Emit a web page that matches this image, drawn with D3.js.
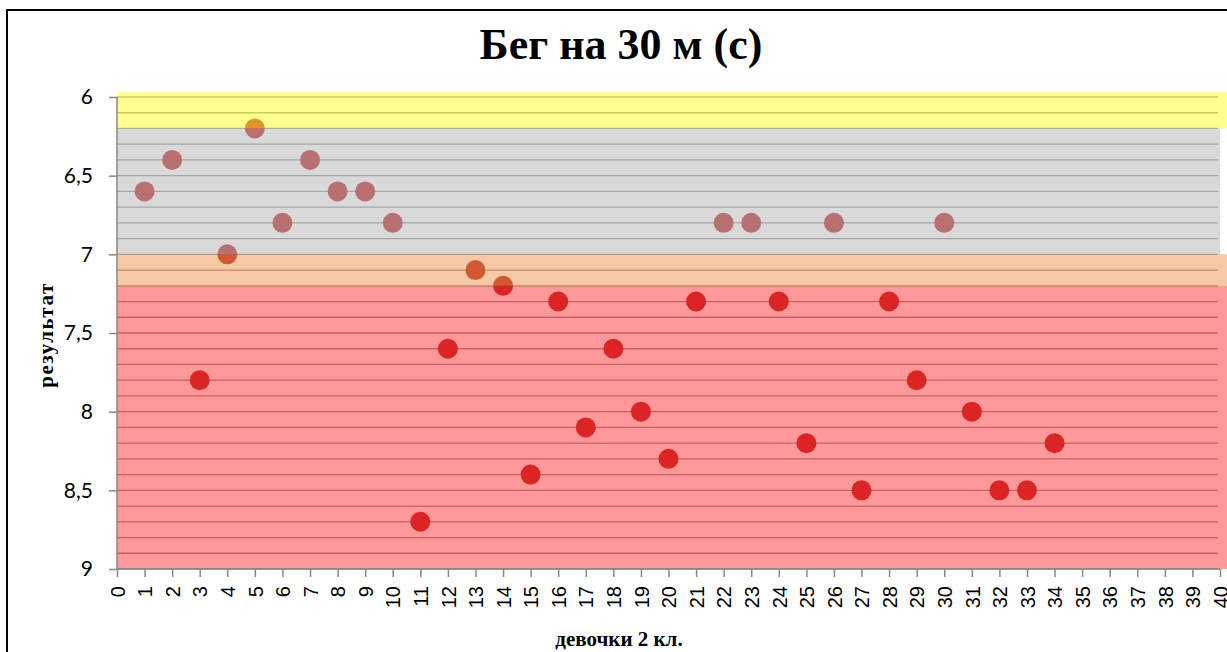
<!DOCTYPE html>
<html>
<head>
<meta charset="utf-8">
<script src="https://cdn.jsdelivr.net/npm/d3@7"></script>
<style>
  body { margin: 0; background: #fff; }
  svg { display: block; }
</style>
</head>
<body>
<div id="chart"></div>
<script>
// pupils (girls, 2nd grade) and their 30 m run times
const pupils = [1, 2, 3, 4, 5, 6, 7, 8, 9, 10, 11, 12, 13, 14, 15, 16, 17, 18, 19, 20,
                21, 22, 23, 24, 25, 26, 27, 28, 29, 30, 31, 32, 33, 34];
const times = [6.6, 6.4, 7.8, 7.0, 6.2, 6.8, 6.4, 6.6, 6.6, 6.8, 8.7, 7.6, 7.1, 7.2, 8.4, 7.3, 8.1, 7.6, 8.0, 8.3,
               7.3, 6.8, 6.8, 7.3, 8.2, 6.8, 8.5, 7.3, 7.8, 6.8, 8.0, 8.5, 8.5, 8.2];

// grade bands (from, to)
const bandFrom = [5.97, 6.2, 7.0, 7.2];
const bandTo = [6.2, 7.0, 7.2, 9.0];
const bandColors = ["rgba(255,255,31,0.5)", "rgba(179,179,179,0.5)", "rgba(232,140,62,0.47)", "rgba(255,28,28,0.45)"];

const yTicks = [6, 6.5, 7, 7.5, 8, 8.5, 9];
const xTicks = d3.range(0, 41);

const W = 1227, H = 652;
const margin = { top: 97, right: 7, bottom: 83, left: 117 };
const width = W - margin.left - margin.right;
const height = H - margin.top - margin.bottom;

const svg = d3.select("#chart").append("svg")
    .attr("width", W)
    .attr("height", H);

// chart frame
svg.append("rect")
    .attr("x", 7).attr("y", 10)
    .attr("width", 1240).attr("height", 700)
    .attr("fill", "#fff")
    .attr("stroke", "#000")
    .attr("stroke-width", 2);

const g = svg.append("g")
    .attr("transform", `translate(${margin.left},${margin.top})`);

const x = d3.scaleLinear().domain([0, 40]).range([0, width]);
const y = d3.scaleLinear().domain([6, 9]).range([0, height]); // reversed: 6 on top

// horizontal gridlines every 0.1
g.append("g")
    .selectAll("line")
    .data(d3.range(60, 91).map(d => d / 10))
    .enter()
    .append("line")
    .attr("x1", 0).attr("x2", width - 2)
    .attr("y1", d => y(d)).attr("y2", d => y(d))
    .attr("stroke", "#999")
    .attr("stroke-width", 1.3);

// points
g.append("g")
    .selectAll("circle")
    .data(pupils)
    .enter()
    .append("circle")
    .attr("cx", (d, i) => x(d))
    .attr("cy", (d, i) => y(times[i]))
    .attr("r", 10)
    .attr("fill", "#be2d2d");

// translucent bands on top
g.append("g")
    .selectAll("rect")
    .data(bandFrom)
    .enter()
    .append("rect")
    .attr("x", 0)
    .attr("y", (d, i) => y(d))
    .attr("width", (d, i) => i === 1 ? width : width + 8)
    .attr("height", (d, i) => y(bandTo[i]) - y(d))
    .attr("fill", (d, i) => bandColors[i]);

// y axis
const yAxis = g.append("g")
    .call(d3.axisLeft(y).tickValues(yTicks).tickSize(8).tickFormat(d => String(d).replace(".", ",")));
yAxis.select(".domain").attr("stroke", "#888").attr("stroke-width", 1.5).attr("d", `M0,0V${height}`);
yAxis.selectAll(".tick line").attr("stroke", "#888").attr("stroke-width", 1.5);
yAxis.selectAll(".tick text")
    .attr("x", -24)
    .attr("fill", "#000")
    .style("font-family", "Lato, 'Open Sans', sans-serif")
    .style("font-size", "21px");

// x axis
const xAxis = g.append("g")
    .attr("transform", `translate(0,${height})`)
    .call(d3.axisBottom(x).tickValues(xTicks).tickSize(8).tickFormat(d3.format("d")));
xAxis.select(".domain").attr("stroke", "#888").attr("stroke-width", 1.5).attr("d", `M0,0H${width}`);
xAxis.selectAll(".tick line").attr("stroke", "#888").attr("stroke-width", 1.5);
xAxis.selectAll(".tick text")
    .attr("transform", "translate(0,17) rotate(-90)")
    .attr("x", 0).attr("y", 0)
    .attr("dy", "0.36em")
    .attr("text-anchor", "end")
    .attr("fill", "#000")
    .style("font-family", "'Liberation Sans', Arial, sans-serif")
    .style("font-size", "20px");

// titles
svg.append("text")
    .attr("x", 621).attr("y", 59)
    .attr("text-anchor", "middle")
    .style("font-family", "'Liberation Serif', 'Times New Roman', serif")
    .style("font-weight", "bold")
    .style("font-size", "44px")
    .text("Бег на 30 м (с)");

svg.append("text")
    .attr("transform", "translate(53,335) rotate(-90)")
    .attr("text-anchor", "middle")
    .style("font-family", "'Liberation Serif', 'Times New Roman', serif")
    .style("font-weight", "bold")
    .style("font-size", "21px")
    .style("letter-spacing", "1.5px")
    .text("результат");

svg.append("text")
    .attr("x", 619).attr("y", 646)
    .attr("text-anchor", "middle")
    .style("font-family", "'Liberation Serif', 'Times New Roman', serif")
    .style("font-weight", "bold")
    .style("font-size", "21px")
    .text("девочки 2 кл.");
</script>
</body>
</html>
